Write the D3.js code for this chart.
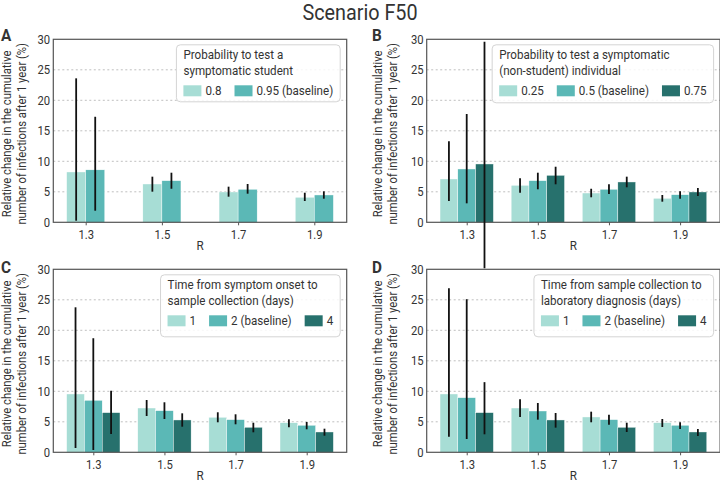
<!DOCTYPE html>
<html><head><meta charset="utf-8">
<script src="https://cdn.jsdelivr.net/npm/d3@7"></script>
<style>
body{margin:0;background:#fff}
svg{display:block}
text{font-family:Roboto,"Noto Sans",sans-serif;fill:#333}
</style>
</head><body>
<svg id="chart" width="720" height="482"></svg>
<script>
// ---------------- data ----------------
const categories = ["1.3","1.5","1.7","1.9"];
const yTicks = [0,5,10,15,20,25,30];
const figureTitle = "Scenario F50";
const yLabelLines = ["Relative change in the cumulative","number of infections after 1 year (%)"];
const xLabel = "R";

const aTitle = ["Probability to test a","symptomatic student"];
const aSeries = ["0.8","0.95 (baseline)"];
const aValues = [[8.25,6.28,4.97,4.1],[8.6,6.82,5.41,4.48]];
const aLow  = [[0.26,5.02,4.2,3.49],[1.9,5.5,4.69,3.87]];
const aHigh = [[23.6,7.48,5.84,4.85],[17.3,8.13,6.28,5.08]];

const bTitle = ["Probability to test a symptomatic","(non-student) individual"];
const bSeries = ["0.25","0.5 (baseline)","0.75"];
const bValues = [[7.1,6.06,4.8,3.93],[8.74,6.82,5.41,4.52],[9.56,7.7,6.61,4.97]];
const bLow  = [[3.49,4.86,4.1,3.38],[3.11,5.41,4.64,3.87],[-7.54,6.23,5.74,4.31]];
const bHigh = [[13.3,7.21,5.5,4.48],[17.75,8.13,6.23,5.08],[29.6,9.11,7.48,5.62]];

const cTitle = ["Time from symptom onset to","sample collection (days)"];
const cSeries = ["1","2 (baseline)","4"];
const cValues = [[9.56,7.26,5.74,4.85],[8.52,6.82,5.35,4.43],[6.5,5.3,4.1,3.33]];
const cLow  = [[0.7,5.95,4.92,4.1],[0.38,5.46,4.59,3.77],[3.0,4.2,3.28,2.72]];
const cHigh = [[23.77,8.57,6.56,5.41],[18.7,8.2,6.23,4.97],[10.1,6.39,4.85,3.87]];

const dTitle = ["Time from sample collection to","laboratory diagnosis (days)"];
const dSeries = ["1","2 (baseline)","4"];
const dValues = [[9.56,7.26,5.79,4.85],[8.95,6.77,5.35,4.43],[6.5,5.3,4.1,3.33]];
const dLow  = [[2.56,5.79,4.92,4.15],[2.18,5.35,4.53,3.82],[2.95,4.04,3.33,2.67]];
const dHigh = [[26.9,8.69,6.66,5.46],[25.1,8.08,6.17,4.92],[11.5,6.44,4.85,3.82]];

// ---------------- style / layout ----------------
const palette3 = ["#a7ddd5","#5bb8b6","#27716d"];
const SX = 0.9;             // horizontal condensing of the font
const FS = 12.5;            // base font size
const LFS = 12.9;           // legend font size
const W = 293.4, H = 183;   // axes size
const panels = [
  {letter:"A", title:aTitle, series:aSeries, values:aValues, low:aLow, high:aHigh, left:53.3,  top:39.3,  ox:0,   ly:40.7, bh:57},
  {letter:"B", title:bTitle, series:bSeries, values:bValues, low:bLow, high:bHigh, left:426.7, top:39.3,  ox:371, ly:40.7, bh:58},
  {letter:"C", title:cTitle, series:cSeries, values:cValues, low:cLow, high:cHigh, left:53.3,  top:269.3, ox:0,   ly:273, bh:62},
  {letter:"D", title:dTitle, series:dSeries, values:dValues, low:dLow, high:dHigh, left:426.7, top:269.3, ox:371, ly:273, bh:62}
];

const svg = d3.select("#chart");

function label(g, x, y, s, size, anchor, weight, rot){
  const t = g.append("text")
    .attr("transform", `translate(${x},${y})` + (rot ? ` rotate(${rot})` : "") + ` scale(${SX},1)`)
    .attr("text-anchor", anchor || "start")
    .style("font-size", size + "px")
    .text(s);
  if (weight) t.style("font-weight", weight);
  return t;
}

label(svg, 360, 19.5, figureTitle, 22, "middle");

panels.forEach(p => {
  const g = svg.append("g");
  const n = p.series.length;
  const bw = 0.25;
  const lo = -n*bw/2, hi = (categories.length-1) + n*bw/2;
  const m = 0.05*(hi-lo);
  const x = d3.scaleLinear().domain([lo-m, hi+m]).range([p.left, p.left+W]);
  const y = d3.scaleLinear().domain([0,30]).range([p.top+H, p.top]);
  const colors = n === 2 ? palette3.slice(0,2) : palette3;

  // gridlines
  g.append("g").selectAll("line").data(yTicks.filter(v => v > 0 && v < 30)).join("line")
    .attr("x1", p.left).attr("x2", p.left+W)
    .attr("y1", d => y(d)).attr("y2", d => y(d))
    .attr("stroke", "#b8b8b8").attr("stroke-width", 0.9).attr("stroke-dasharray", "2,2.5");

  // bars
  const rows = [];
  p.series.forEach((s, i) => categories.forEach((c, j) => {
    rows.push({i, j, v:p.values[i][j], lo:p.low[i][j], hi:p.high[i][j], xc: j + (i-(n-1)/2)*bw});
  }));
  g.append("g").selectAll("rect").data(rows).join("rect")
    .attr("x", d => x(d.xc - bw/2)).attr("width", d => x(d.xc + bw/2) - x(d.xc - bw/2))
    .attr("y", d => y(d.v)).attr("height", d => y(0) - y(d.v))
    .attr("fill", d => colors[d.i])
    .attr("stroke", "#ffffff").attr("stroke-width", 0.4);

  // frame
  g.append("rect").attr("x", p.left).attr("y", p.top).attr("width", W).attr("height", H)
    .attr("fill", "none").attr("stroke", "#555").attr("stroke-width", 1.2);

  // axes
  g.append("g").attr("transform", `translate(${p.left},0)`)
    .call(d3.axisLeft(y).tickValues(yTicks).tickSize(0).tickPadding(3.5))
    .call(s => { s.select(".domain").remove();
      s.selectAll("text").style("font-size", FS+"px").attr("transform", `scale(${SX},1)`); });
  g.append("g").attr("transform", `translate(0,${p.top+H})`)
    .call(d3.axisBottom(x).tickValues(categories.map((c,j) => j)).tickFormat(j => categories[j]).tickSize(3).tickPadding(4.5))
    .call(s => { s.select(".domain").remove();
      s.selectAll("line").attr("stroke", "#555").attr("stroke-width", 1);
      s.selectAll("text").style("font-size", FS+"px").attr("transform", `scale(${SX},1)`); });

  // axis labels
  label(g, p.left + W/2, p.top + H + 27.6, xLabel, FS+0.5, "middle");
  const cy = p.top + H/2 + 3;
  label(g, p.ox + 10.5, cy, yLabelLines[0], FS, "middle", null, -90);
  label(g, p.ox + 25.5, cy, yLabelLines[1], FS, "middle", null, -90);

  // panel letter
  label(g, p.ox + 1, p.ly, p.letter, 17, "start", "bold");

  // legend
  const pad = 7, sw = 18, sh = 11, tg = 4, cg = 13;
  const lg = g.append("g");
  const box = lg.append("rect").attr("rx", 4).attr("ry", 4)
    .attr("fill", "#fff").attr("fill-opacity", 0.85).attr("stroke", "#d4d4d4").attr("stroke-width", 1);
  const tW = p.title.map((t, k) => label(lg, pad, 14.5 + k*15.5, t, LFS, "start").node().getComputedTextLength()*SX);
  let cx = pad;
  p.series.forEach((s, i) => {
    lg.append("rect").attr("x", cx).attr("y", 40.5).attr("width", sw).attr("height", sh).attr("fill", colors[i]);
    const w = label(lg, cx + sw + tg, 50.5, s, LFS, "start").node().getComputedTextLength()*SX;
    cx += sw + tg + w + cg;
  });
  const eW = cx - cg - pad;
  const bwid = Math.max(eW, ...tW) + 2*pad;
  box.attr("width", bwid).attr("height", p.bh);
  lg.attr("transform", `translate(${p.left + W - 6.5 - bwid},${p.top + 5.5})`);

  // error bars
  g.append("g").selectAll("line").data(rows).join("line")
    .attr("x1", d => x(d.xc)).attr("x2", d => x(d.xc))
    .attr("y1", d => y(d.lo)).attr("y2", d => y(d.hi))
    .attr("stroke", "#111").attr("stroke-width", 1.8);
});
</script>
</body></html>
